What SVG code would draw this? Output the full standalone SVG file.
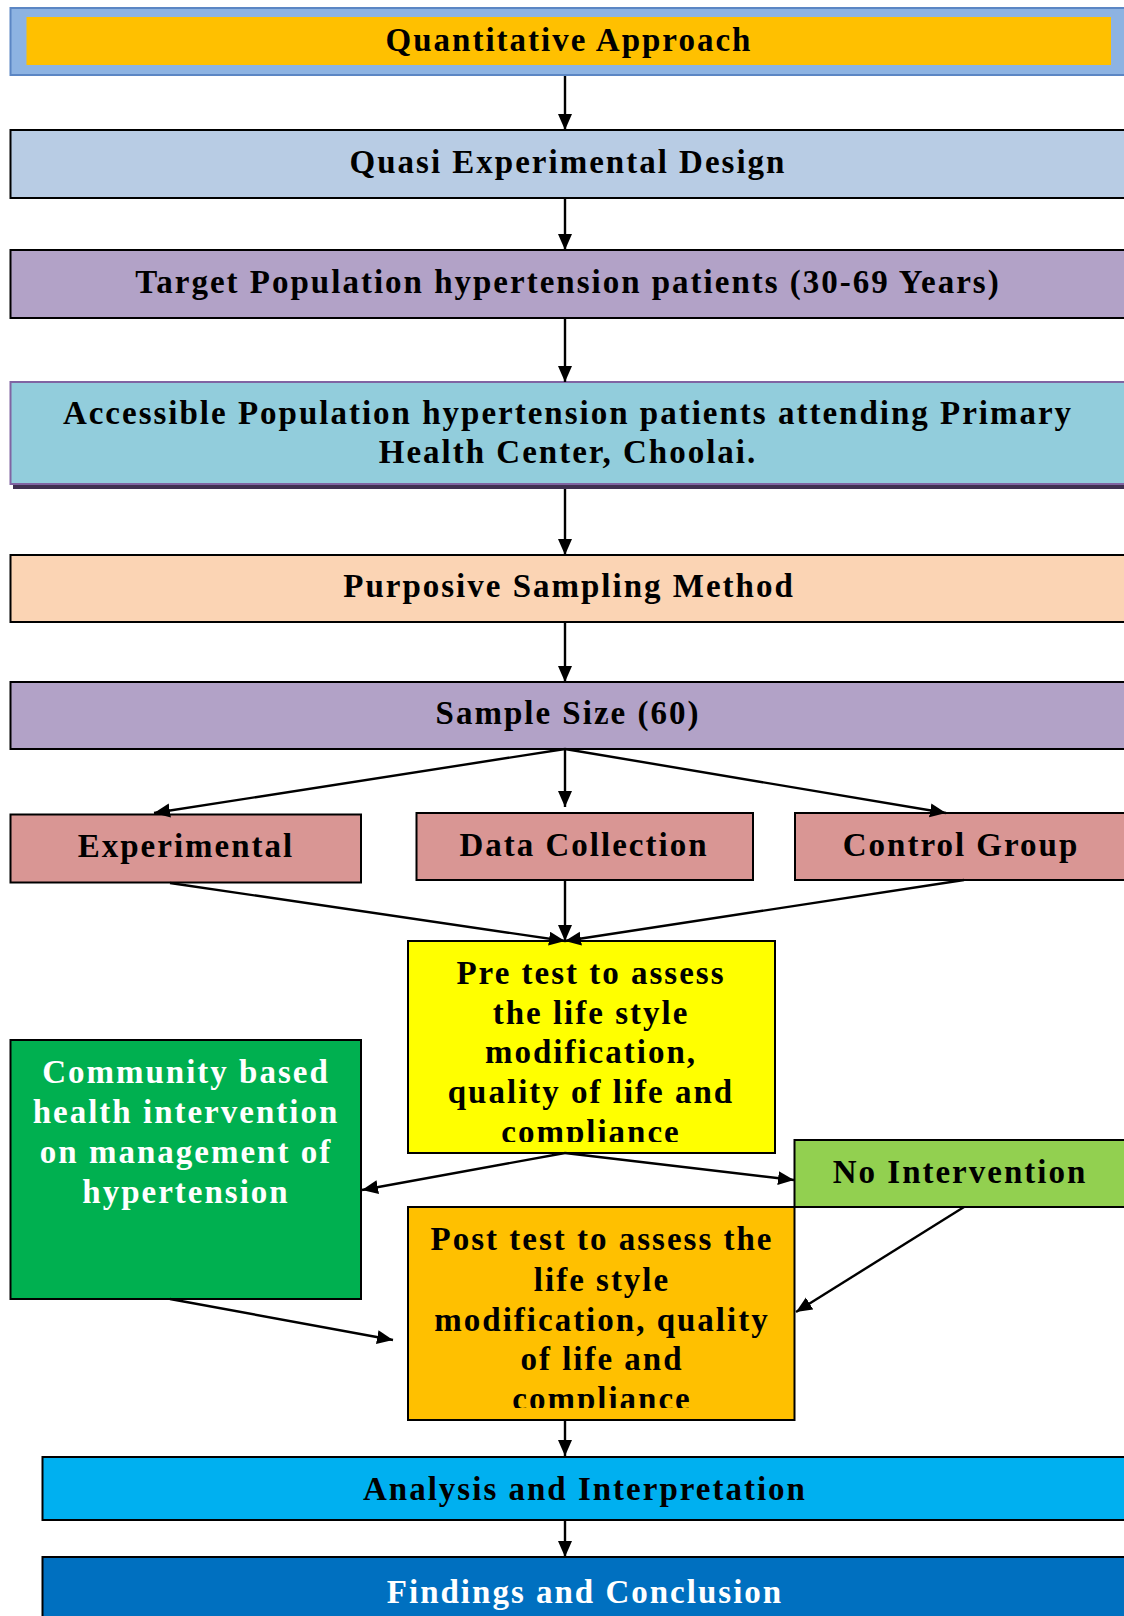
<svg xmlns="http://www.w3.org/2000/svg" width="1124" height="1616" viewBox="0 0 1124 1616">
<style>
  .box { stroke: #000; stroke-width: 2; }
  .t { font-family: "Liberation Serif", "Times New Roman", serif; font-weight: bold; font-size: 33px; letter-spacing: 2px; text-anchor: middle; fill: #000; }
  .w { fill: #fff; }
  .c { stroke: #000; stroke-width: 2.4; fill: none; marker-end: url(#ah); }
</style>
<defs>
  <marker id="ah" markerUnits="userSpaceOnUse" markerWidth="18" markerHeight="16" refX="16" refY="7" orient="auto">
    <path d="M0,0 L16,7 L0,14 z" fill="#000"/>
  </marker>
  <clipPath id="clipPre"><rect x="408" y="941" width="367" height="201"/></clipPath>
  <clipPath id="clipPost"><rect x="408" y="1207" width="386" height="201"/></clipPath>
</defs>
<rect width="1124" height="1616" fill="#fff"/>

<g id="n1">
  <rect x="10.5" y="8" width="1125" height="67" fill="#8DB3E2" stroke="#5B86C4" stroke-width="2"/>
  <rect x="26.5" y="17" width="1084.5" height="48" fill="#FFC000"/>
  <text class="t" x="569" y="51">Quantitative Approach</text>
</g>
<g id="n2">
  <rect class="box" x="10.5" y="130" width="1125" height="68" fill="#B8CCE4"/>
  <text class="t" x="568" y="173">Quasi Experimental Design</text>
</g>
<g id="n3">
  <rect class="box" x="10.5" y="250" width="1125" height="68" fill="#B2A2C7"/>
  <text class="t" x="568" y="293">Target Population hypertension patients (30-69 Years)</text>
</g>
<g id="n4">
  <rect x="13" y="387" width="1125" height="102" fill="#3F3151"/>
  <rect x="10.5" y="382" width="1125" height="102" fill="#92CDDC" stroke="#8064A2" stroke-width="2"/>
  <text class="t" x="568" y="424">Accessible Population hypertension patients attending Primary</text>
  <text class="t" x="568" y="463">Health Center, Choolai.</text>
</g>
<g id="n5">
  <rect class="box" x="10.5" y="555" width="1125" height="67" fill="#FBD4B4"/>
  <text class="t" x="569" y="597">Purposive Sampling Method</text>
</g>
<g id="n6">
  <rect class="box" x="10.5" y="682" width="1125" height="67" fill="#B2A2C7"/>
  <text class="t" x="568" y="724">Sample Size (60)</text>
</g>
<g id="n7">
  <rect class="box" x="10.5" y="814.5" width="350.5" height="68" fill="#D99694"/>
  <text class="t" x="186" y="857">Experimental</text>
</g>
<g id="n8">
  <rect class="box" x="416.5" y="813" width="336.5" height="67" fill="#D99694"/>
  <text class="t" x="584" y="856">Data Collection</text>
</g>
<g id="n9">
  <rect class="box" x="795" y="813" width="340" height="67" fill="#D99694"/>
  <text class="t" x="961" y="856">Control Group</text>
</g>
<g id="n10">
  <rect class="box" x="408" y="941" width="367" height="212" fill="#FFFF00"/>
  <g clip-path="url(#clipPre)">
    <text class="t" x="591" y="984">Pre test to assess</text>
    <text class="t" x="591" y="1023.7">the life style</text>
    <text class="t" x="591" y="1063.4">modification,</text>
    <text class="t" x="591" y="1103">quality of life and</text>
    <text class="t" x="591" y="1142.7">compliance</text>
  </g>
</g>
<g id="n11">
  <rect class="box" x="10.5" y="1040" width="350.5" height="259" fill="#00B050"/>
  <text class="t w" x="186" y="1083.3">Community based</text>
  <text class="t w" x="186" y="1123.2">health intervention</text>
  <text class="t w" x="186" y="1163">on management of</text>
  <text class="t w" x="186" y="1202.8">hypertension</text>
</g>
<g id="n12">
  <rect class="box" x="794.5" y="1140" width="340" height="67" fill="#92D050"/>
  <text class="t" x="960" y="1183">No Intervention</text>
</g>
<g id="n13">
  <rect class="box" x="408" y="1207" width="386.5" height="213" fill="#FFC000"/>
  <g clip-path="url(#clipPost)">
    <text class="t" x="602" y="1250">Post test to assess the</text>
    <text class="t" x="602" y="1290.5">life style</text>
    <text class="t" x="602" y="1330.5">modification, quality</text>
    <text class="t" x="602" y="1370">of life and</text>
    <text class="t" x="602" y="1409.5">compliance</text>
  </g>
</g>
<g id="n14">
  <rect class="box" x="42.5" y="1457" width="1095" height="63" fill="#00B0F0"/>
  <text class="t" x="585" y="1500">Analysis and Interpretation</text>
</g>
<g id="n15">
  <rect class="box" x="42.5" y="1557" width="1095" height="80" fill="#0070C0"/>
  <text class="t w" x="585" y="1603">Findings and Conclusion</text>
</g>

<g id="connectors">
  <line class="c" x1="565" y1="76" x2="565" y2="130"/>
  <line class="c" x1="565" y1="198" x2="565" y2="250"/>
  <line class="c" x1="565" y1="318" x2="565" y2="382"/>
  <line class="c" x1="565" y1="489" x2="565" y2="555"/>
  <line class="c" x1="565" y1="622" x2="565" y2="682"/>
  <line class="c" x1="565" y1="749" x2="154" y2="813"/>
  <line class="c" x1="565" y1="749" x2="565" y2="807"/>
  <line class="c" x1="565" y1="749" x2="946" y2="813"/>
  <line class="c" x1="170" y1="883" x2="565" y2="941"/>
  <line class="c" x1="565" y1="880" x2="565" y2="941"/>
  <line class="c" x1="964" y1="880" x2="565" y2="941"/>
  <line class="c" x1="565" y1="1153" x2="362" y2="1190"/>
  <line class="c" x1="565" y1="1153" x2="794" y2="1180"/>
  <line class="c" x1="964" y1="1207" x2="796" y2="1312"/>
  <line class="c" x1="170" y1="1299" x2="393" y2="1340"/>
  <line class="c" x1="565" y1="1420" x2="565" y2="1456"/>
  <line class="c" x1="565" y1="1520" x2="565" y2="1557"/>
</g>
</svg>
